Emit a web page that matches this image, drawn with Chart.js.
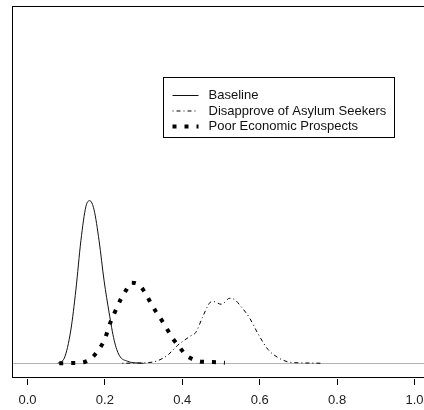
<!DOCTYPE html>
<html>
<head>
<meta charset="utf-8">
<script src="https://cdn.jsdelivr.net/npm/chart.js@4/dist/chart.umd.min.js"></script>
<style>
  html, body { margin: 0; padding: 0; background: #fff; overflow: hidden; }
  #wrap { width: 432px; height: 410px; position: relative; }
</style>
</head>
<body>
<div id="wrap"><canvas id="myChart"></canvas></div>
<script>
// density curves
const baselineX = [0.078, 0.095, 0.112, 0.125, 0.138, 0.151, 0.161, 0.172, 0.185, 0.198, 0.211, 0.224, 0.237, 0.259, 0.28, 0.30];
const baselineY = [0, 0.44, 2.9, 6.4, 10.7, 13.7, 14.2, 13.4, 10.7, 7.2, 4.4, 2.0, 0.7, 0.17, 0.03, 0];

const asylumX = [0.245, 0.28, 0.31, 0.336, 0.362, 0.388, 0.405, 0.42, 0.435, 0.452, 0.47, 0.478, 0.49, 0.50, 0.51, 0.521, 0.534, 0.552, 0.573, 0.595, 0.621, 0.646, 0.672, 0.70, 0.73, 0.758];
const asylumY = [0, 0.02, 0.05, 0.22, 0.7, 1.57, 2.0, 2.36, 2.7, 4.0, 5.24, 5.41, 5.28, 5.15, 5.33, 5.67, 5.59, 4.94, 4.0, 2.62, 1.22, 0.52, 0.13, 0.04, 0.02, 0];

const poorX = [0.082, 0.116, 0.145, 0.168, 0.185, 0.198, 0.215, 0.228, 0.241, 0.254, 0.269, 0.289, 0.302, 0.319, 0.332, 0.349, 0.362, 0.375, 0.392, 0.409, 0.427, 0.448, 0.478, 0.51];
const poorY = [0, 0.02, 0.09, 0.52, 1.25, 1.97, 3.63, 4.63, 5.59, 6.34, 7.04, 6.84, 6.25, 5.24, 4.5, 3.63, 2.91, 2.18, 1.45, 0.72, 0.35, 0.14, 0.11, 0.05];

const seriesLabels = ["Baseline", "Disapprove of Asylum Seekers", "Poor Economic Prospects"];
const xTicks = [0.0, 0.2, 0.4, 0.6, 0.8, 1.0];

// legend placed in data coordinates, like R's legend(x, y)
const legendAt = { x: 0.35, y: 25 };

function toPoints(xs, ys) {
    return xs.map((x, i) => ({ x: x, y: ys[i] }));
}

// frame round the plot region
const boxPlugin = {
    id: 'box',
    afterDraw(chart) {
        const a = chart.chartArea;
        const ctx = chart.ctx;
        ctx.save();
        ctx.strokeStyle = '#000';
        ctx.lineWidth = 1;
        ctx.strokeRect(Math.round(a.left) + 0.5, Math.round(a.top) + 0.5,
            Math.round(a.right - a.left), Math.round(a.bottom - a.top));
        ctx.restore();
    }
};

// R style legend box
const legendPlugin = {
    id: 'rlegend',
    afterDatasetsDraw(chart) {
        const ctx = chart.ctx;
        const left = Math.round(chart.scales.x.getPixelForValue(legendAt.x)) + 0.5;
        const top = Math.round(chart.scales.y.getPixelForValue(legendAt.y)) + 0.5;
        ctx.save();
        ctx.font = '13px "Liberation Sans", Arial, sans-serif';
        let maxW = 0;
        chart.data.datasets.forEach(ds => { maxW = Math.max(maxW, ctx.measureText(ds.label).width); });
        const w = Math.round(45 + maxW + 8);
        const h = 60;
        ctx.fillStyle = '#fff';
        ctx.fillRect(left, top, w, h);
        ctx.strokeStyle = '#000';
        ctx.lineWidth = 1;
        ctx.strokeRect(left, top, w, h);
        chart.data.datasets.forEach((ds, i) => {
            const cy = top + 18 + i * 15.5;
            ctx.beginPath();
            ctx.setLineDash(ds.borderDash || []);
            ctx.lineWidth = ds.borderWidth;
            ctx.strokeStyle = ds.borderColor;
            ctx.moveTo(left + 9, cy);
            ctx.lineTo(left + 35, cy);
            ctx.stroke();
            ctx.setLineDash([]);
            ctx.fillStyle = '#111';
            ctx.textBaseline = 'middle';
            ctx.fillText(ds.label, left + 45, cy);
        });
        ctx.restore();
    }
};

const ctx = document.getElementById('myChart').getContext('2d');
new Chart(ctx, {
    type: 'line',
    data: {
        datasets: [{
            label: seriesLabels[0],
            data: toPoints(baselineX, baselineY),
            borderColor: '#111',
            borderWidth: 1,
            borderDash: [],
            cubicInterpolationMode: 'monotone'
        }, {
            label: seriesLabels[1],
            data: toPoints(asylumX, asylumY),
            borderColor: '#000',
            borderWidth: 1,
            borderDash: [1, 3, 4, 3],
            cubicInterpolationMode: 'monotone'
        }, {
            label: seriesLabels[2],
            data: toPoints(poorX, poorY),
            borderColor: '#000',
            borderWidth: 4,
            borderDash: [4, 8],
            cubicInterpolationMode: 'monotone'
        }]
    },
    options: {
        responsive: true,
        maintainAspectRatio: false,
        animation: false,
        layout: { padding: { left: 12, top: 6, right: 2, bottom: 0 } },
        elements: { point: { radius: 0, hoverRadius: 0 } },
        plugins: {
            legend: { display: false },
            tooltip: { enabled: false }
        },
        scales: {
            x: {
                type: 'linear',
                min: -0.04,
                max: 1.04,
                afterBuildTicks: scale => { scale.ticks = xTicks.map(v => ({ value: v })); },
                afterFit: scale => { scale.height = 33; },
                border: { display: false },
                grid: {
                    drawOnChartArea: false,
                    drawTicks: true,
                    tickLength: 8,
                    tickColor: '#000',
                    tickBorderDash: [0, 2, 6]
                },
                ticks: {
                    padding: 8,
                    color: '#222',
                    font: { family: '"Liberation Sans", Arial, sans-serif', size: 13 },
                    maxRotation: 0,
                    callback: v => Number(v).toFixed(1)
                }
            },
            y: {
                min: -1.2,
                max: 31.2,
                afterBuildTicks: scale => { scale.ticks = [{ value: 0 }]; },
                border: { display: false },
                grid: {
                    drawTicks: false,
                    color: c => c.tick && c.tick.value === 0 ? '#b4b4b4' : 'rgba(0,0,0,0)'
                },
                ticks: { display: false }
            }
        }
    },
    plugins: [boxPlugin, legendPlugin]
});
</script>
</body>
</html>
